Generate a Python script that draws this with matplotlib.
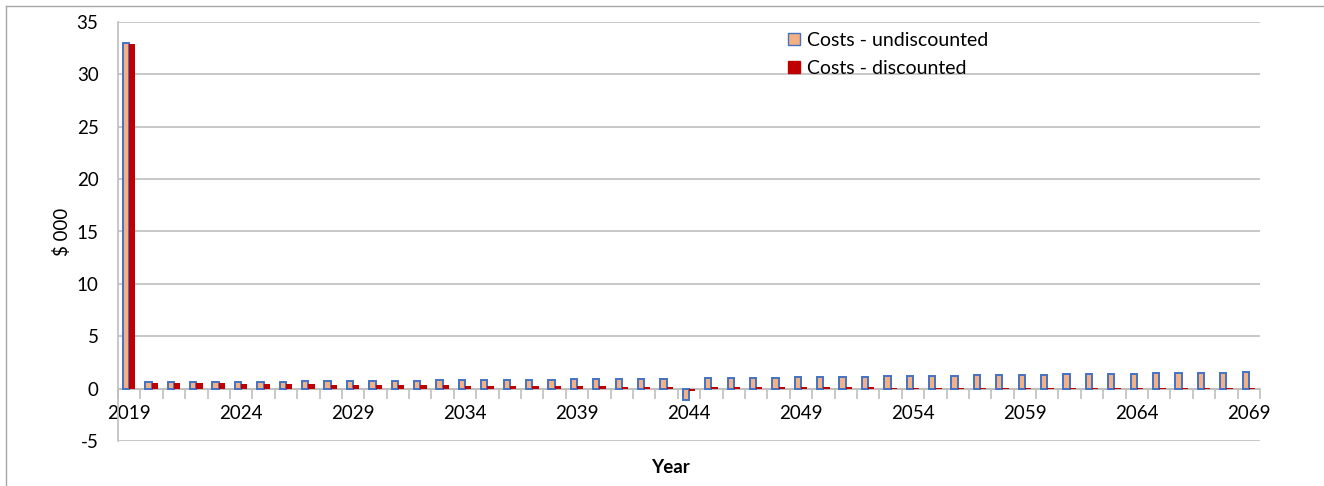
import numpy as np
import matplotlib.pyplot as plt
from matplotlib.lines import Line2D

plt.rcParams['font.family'] = ['Lato', 'DejaVu Sans']
plt.rcParams['axes.unicode_minus'] = False

years = list(range(2019, 2070))

# $ 000
undiscounted = [
    33.0,
    0.60, 0.61, 0.62, 0.64, 0.65, 0.66, 0.68, 0.69, 0.70, 0.72,
    0.73, 0.75, 0.76, 0.78, 0.79, 0.81, 0.83, 0.84, 0.86, 0.88,
    0.90, 0.91, 0.93, 0.95, -1.05, 0.99, 1.01, 1.03, 1.05, 1.07,
    1.09, 1.11, 1.14, 1.16, 1.18, 1.21, 1.23, 1.26, 1.28, 1.31,
    1.33, 1.36, 1.39, 1.42, 1.44, 1.47, 1.49, 1.51, 1.53, 1.55,
]
discounted = [
    32.9,
    0.56, 0.53, 0.51, 0.49, 0.46, 0.44, 0.42, 0.40, 0.38, 0.37,
    0.35, 0.33, 0.32, 0.30, 0.29, 0.27, 0.26, 0.25, 0.23, 0.22,
    0.21, 0.20, 0.19, 0.18, -0.19, 0.16, 0.15, 0.14, 0.14, 0.13,
    0.12, 0.12, 0.11, 0.10, 0.10, 0.09, 0.09, 0.08, 0.08, 0.07,
    0.07, 0.07, 0.06, 0.06, 0.06, 0.05, 0.05, 0.05, 0.05, 0.04,
]

grid_col = '#BFBFBF'
fill_col = '#F4B183'
edge_col = '#4472C4'
red_col = '#C00000'
fs = 13.5

fig = plt.figure(figsize=(13.24, 4.86), dpi=100)
ax = fig.add_axes([118/1324, 1 - 441/486, (1260 - 118)/1324, (441 - 22)/486])

x = np.arange(len(years))
w = 0.28
ax.bar(x - w/2, undiscounted, width=w, color=fill_col, edgecolor=edge_col,
       linewidth=1.4, zorder=3)
ax.bar(x + w/2, discounted, width=w, color=red_col, linewidth=0, zorder=3)

ax.set_ylim(-5, 35)
ax.set_yticks(range(-5, 36, 5))
ax.set_xlim(-0.5, len(years) - 0.5)
ax.yaxis.grid(True, color=grid_col, linewidth=1.2, zorder=0)
ax.set_axisbelow(True)

for s in ['top', 'right']:
    ax.spines[s].set_visible(False)
ax.spines['left'].set_color(grid_col)
ax.spines['left'].set_linewidth(1.2)
ax.spines['bottom'].set_position(('data', 0))
ax.spines['bottom'].set_color(grid_col)
ax.spines['bottom'].set_linewidth(1.2)

label_pos = x[::5]
ax.set_xticks(label_pos)
ax.set_xticklabels([str(years[i]) for i in label_pos])
ax.set_xticks(np.arange(len(years) + 1) - 0.5, minor=True)
ax.tick_params(axis='x', which='major', length=0, pad=12, labelsize=fs)
ax.tick_params(axis='x', which='minor', length=7, color=grid_col, width=1.2)
ax.tick_params(axis='y', length=0, pad=14, labelsize=fs)

ax.set_ylabel('$ 000', fontsize=fs, labelpad=4)
fig.text(670/1324, 1 - 467/486, 'Year', fontsize=fs, fontweight='bold',
         ha='center', va='center')

handles = [
    Line2D([], [], marker='s', linestyle='none', markersize=9,
           markerfacecolor=fill_col, markeredgecolor=edge_col, markeredgewidth=1),
    Line2D([], [], marker='s', linestyle='none', markersize=9,
           markerfacecolor=red_col, markeredgecolor=red_col),
]
ax.legend(handles, ['Costs - undiscounted', 'Costs - discounted'],
          loc='upper left', bbox_to_anchor=(0.568, 1.018), frameon=False,
          fontsize=14, handletextpad=0.15, labelspacing=0.55, handlelength=1.0)

# chart frame
fig.add_artist(Line2D([6/1324, 6/1324], [0, 1 - 6/486], color='#A6A6A6',
                      linewidth=1, transform=fig.transFigure))
fig.add_artist(Line2D([6/1324, 1], [1 - 6/486, 1 - 6/486], color='#A6A6A6',
                      linewidth=1, transform=fig.transFigure))

fig.savefig('out.png', dpi=100)
